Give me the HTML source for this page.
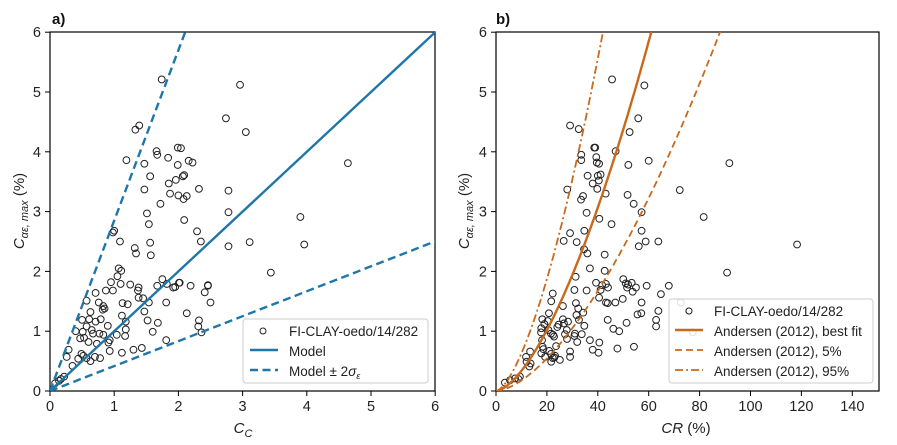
<!DOCTYPE html>
<html><head><meta charset="utf-8"><style>
html,body{margin:0;padding:0;background:#fff;}
svg{display:block;font-family:"Liberation Sans",Arial,sans-serif;}
</style></head><body>
<svg id="chart" width="897" height="445" viewBox="0 0 897 445">
<defs>
<clipPath id="clipA"><rect x="50" y="32" width="385" height="359"/></clipPath>
<clipPath id="clipB"><rect x="496" y="32" width="383" height="359"/></clipPath>
</defs>
<g id="panelA"></g>
<g id="panelB"></g>
</svg>
<script>
// ---- data ----
const ccValues = [1.74,2.74,1.33,1.39,1.66,1.67,1.19,1.47,1.84,1.99,2.04,1.99,2.16,2.22,1.56,2.09,2.07,1.96,1.85,1.47,2.32,2.78,1.87,2.00,2.13,2.08,1.72,1.51,2.78,1.54,2.09,2.29,2.35,0.98,1.00,1.09,1.56,1.32,1.34,1.57,2.78,3.05,4.64,3.90,3.11,3.96,3.44,2.46,2.41,2.50,2.96,1.07,1.11,1.05,0.95,1.10,1.25,1.75,1.67,1.82,1.92,1.95,2.01,2.02,2.19,2.46,1.38,1.37,0.71,0.87,0.98,0.57,0.76,0.83,0.85,0.82,1.13,1.21,1.38,1.45,1.54,1.81,2.13,2.32,2.31,2.36,1.47,1.52,1.68,1.60,1.81,0.63,0.61,0.50,0.71,0.79,0.90,1.12,1.18,1.18,1.17,0.40,0.51,0.57,0.65,0.67,0.77,0.83,0.93,1.04,0.47,0.53,0.60,0.73,0.91,0.93,0.29,0.26,0.35,0.44,0.52,0.57,0.63,0.70,0.78,0.49,1.12,1.30,1.43,0.22,0.17,0.14,0.08];
const caeValuesA = [5.21,4.56,4.37,4.44,4.01,3.95,3.86,3.80,3.90,4.07,4.06,3.78,3.85,3.82,3.59,3.61,3.59,3.53,3.47,3.37,3.38,3.35,3.30,3.27,3.26,3.21,3.13,2.97,2.99,2.79,2.86,2.67,2.50,2.65,2.68,2.50,2.48,2.39,2.30,2.27,2.42,4.33,3.81,2.91,2.49,2.45,1.98,1.76,1.65,1.48,5.12,2.05,2.01,1.92,1.82,1.79,1.78,1.87,1.76,1.79,1.73,1.74,1.81,1.81,1.76,1.77,1.73,1.68,1.64,1.68,1.68,1.51,1.48,1.42,1.38,1.36,1.47,1.45,1.56,1.55,1.48,1.48,1.30,1.18,1.08,0.98,1.33,1.18,1.14,0.99,0.85,1.32,1.20,1.19,1.16,1.20,1.09,1.26,1.16,1.03,0.92,1.00,0.99,1.08,1.02,0.96,0.96,0.94,0.85,0.94,0.88,0.89,0.82,0.79,0.81,0.67,0.69,0.57,0.42,0.54,0.59,0.55,0.50,0.57,0.55,0.62,0.64,0.69,0.72,0.24,0.20,0.17,0.13];
const modelSlopes = [1.0, 2.85, 0.417]; // model, +2sigma, -2sigma

const crValues = [45.6,58.3,55.9,29.1,32.5,52.5,38.6,39.0,47.0,33.5,33.5,39.4,39.6,40.5,52.0,60.0,72.2,36.0,40.0,41.1,38.0,40.4,39.8,28.0,43.1,51.7,34.2,33.4,54.1,35.6,57.2,40.6,91.7,81.6,57.2,58.8,63.8,118.3,90.8,59.2,67.9,64.8,57.2,63.8,62.9,62.9,72.6,75.7,77.3,45.4,29.1,34.7,26.6,31.7,56.1,34.6,35.9,42.7,36.9,42.7,31.3,39.3,43.2,41.7,44.0,41.1,35.6,30.8,50.0,51.0,51.9,53.3,51.5,55.0,53.7,22.3,21.7,26.3,40.5,43.2,43.9,46.9,49.8,57.1,31.4,32.3,34.3,31.6,32.6,34.7,18.2,19.0,20.3,20.8,26.3,26.7,28.3,17.8,17.7,20.6,21.6,22.4,24.1,22.8,24.6,27.8,27.1,27.9,31.0,30.8,33.7,31.9,36.9,40.6,47.7,40.3,38.0,48.4,46.1,43.9,51.3,54.2,55.6,18.1,18.3,18.6,17.8,19.3,20.9,21.6,22.3,21.7,23.2,23.6,25.1,22.9,29.1,29.1,11.8,13.4,12.0,13.6,13.1,9.4,7.5,5.5,3.5,8.8];
const caeValuesB = [5.21,5.11,4.56,4.44,4.38,4.33,4.07,4.07,4.01,3.95,3.86,3.91,3.82,3.80,3.78,3.85,3.36,3.60,3.60,3.62,3.47,3.52,3.38,3.37,3.30,3.28,3.26,3.20,3.13,2.98,2.99,2.88,3.81,2.91,2.68,2.50,2.50,2.45,1.98,1.76,1.76,1.62,1.48,1.34,1.19,1.08,1.48,1.34,0.98,2.79,2.64,2.68,2.51,2.49,2.42,2.37,2.30,2.28,2.05,2.01,1.91,1.81,1.79,1.77,1.73,1.69,1.68,1.69,1.87,1.80,1.78,1.81,1.73,1.73,1.66,1.63,1.50,1.42,1.56,1.48,1.47,1.48,1.54,1.30,1.47,1.38,1.31,1.27,1.19,1.09,1.20,1.12,1.17,1.30,1.20,1.13,1.16,1.05,0.98,1.02,0.96,0.94,1.07,0.91,1.11,1.02,0.95,0.87,0.96,0.92,0.95,0.82,0.85,0.81,0.71,0.64,0.69,1.00,1.04,1.19,1.14,0.74,1.28,0.85,0.74,0.70,0.63,0.57,0.67,0.62,0.55,0.49,0.59,0.75,0.52,0.56,0.66,0.57,0.57,0.66,0.49,0.46,0.41,0.24,0.21,0.18,0.14,0.20];
// Andersen (2012) curves: CR at which Cae reaches 6 %, and exponent
const andersenCRat6 = [61, 88, 42]; // best fit, 5%, 95%
const andersenExp = [1.59, 1.62, 1.57];

const ticksA_x = ["0","1","2","3","4","5","6"];
const ticksA_y = ["0","1","2","3","4","5","6"];
const ticksB_x = ["0","20","40","60","80","100","120","140"];
const ticksB_y = ["0","1","2","3","4","5","6"];

// ---- helpers ----
const NS = "http://www.w3.org/2000/svg";
function mk(tag, attrs, parent){const e=document.createElementNS(NS,tag);for(const k in attrs)e.setAttribute(k,attrs[k]);if(parent)parent.appendChild(e);return e;}
const BLUE="#1f77a8", ORANGE="#c8691c";
const yScale = v => 391 - v*59.8;
const xA = v => 50 + v*64.2;
const xB = v => 496 + v*2.545;

function axes(g, L, R, xs, xt, yt){
  const box = mk('rect',{x:L,y:32,width:R-L,height:359,fill:'none',stroke:'#000','stroke-width':1.2},g);
   
  xt.forEach(t=>{const x=xs(+t);
    const l=mk('line',{x1:x,x2:x,y1:391,y2:396,stroke:'#000','stroke-width':1},g);
     
    const tx=mk('text',{x:x,y:411,'text-anchor':'middle','font-size':14.5,fill:'#222'},g); tx.textContent=t;
     });
  yt.forEach(t=>{const y=yScale(+t);
    const l=mk('line',{x1:L-5,x2:L,y1:y,y2:y,stroke:'#000','stroke-width':1},g);
     
    const tx=mk('text',{x:L-9,y:y+5,'text-anchor':'end','font-size':14.5,fill:'#222'},g); tx.textContent=t;
     });
}
function yTitle(g,x){
  const t=mk('text',{transform:`translate(${x},211) rotate(-90)`,'text-anchor':'middle','font-size':15,fill:'#222'},g);
  t.innerHTML='<tspan font-style="italic">C</tspan><tspan font-style="italic" font-size="11" dy="4">αε, max</tspan><tspan dy="-4"> (%)</tspan>';
   
}
function points(g, xs, ys, xf){
  xs.forEach((v,i)=>{const c=mk('circle',{cx:xf(v),cy:yScale(ys[i]),r:3.4,fill:'none',stroke:'#222','stroke-width':1},g);
     });
}

// ---- panel a ----
const gA=document.getElementById('panelA');
axes(gA,50,435,xA,ticksA_x,ticksA_y);
yTitle(gA,24);
const la=mk('text',{x:52,y:24,'font-size':15,'font-weight':'bold',fill:'#111'},gA); la.textContent='a)';
 
const xa=mk('text',{x:243,y:433,'text-anchor':'middle','font-size':15,fill:'#222'},gA);
xa.innerHTML='<tspan font-style="italic">C</tspan><tspan font-style="italic" font-size="11" dy="4">C</tspan>';
 
const clA=mk('g',{'clip-path':'url(#clipA)'},gA);
points(clA,ccValues,caeValuesA,xA);
modelSlopes.forEach((s,i)=>{
  const l=mk('line',{x1:xA(0),y1:yScale(0),x2:xA(6),y2:yScale(6*s),stroke:BLUE,'stroke-width':2.4},clA);
  if(i>0) l.setAttribute('stroke-dasharray','8,4.5');
  
  
});
// legend a
const lgA=mk('g',{},gA);  
mk('rect',{x:243,y:319,width:185,height:64,rx:3,fill:'#fff',stroke:'#ccc','stroke-width':1},lgA);
mk('circle',{cx:263,cy:331,r:3,fill:'none',stroke:'#222'},lgA);
mk('line',{x1:250,x2:278,y1:350,y2:350,stroke:BLUE,'stroke-width':2.4},lgA);
mk('line',{x1:250,x2:278,y1:370,y2:370,stroke:BLUE,'stroke-width':2.4,'stroke-dasharray':'8,4.5'},lgA);
[['FI-CLAY-oedo/14/282',336],['Model',356]].forEach(([s,y])=>{const t=mk('text',{x:289,y:y,'font-size':13.5,fill:'#222'},lgA);t.textContent=s;
   });
const t3=mk('text',{x:289,y:376,'font-size':13.5,fill:'#222'},lgA);
t3.innerHTML='Model ± 2<tspan font-style="italic">σ</tspan><tspan font-style="italic" font-size="9" dy="3">ε</tspan>';
 

// ---- panel b ----
const gB=document.getElementById('panelB');
axes(gB,496,879,xB,ticksB_x,ticksB_y);
yTitle(gB,469);
const lb=mk('text',{x:496,y:24,'font-size':15,'font-weight':'bold',fill:'#111'},gB); lb.textContent='b)';
 
const xb=mk('text',{x:686,y:433,'text-anchor':'middle','font-size':15,fill:'#222'},gB);
xb.innerHTML='<tspan font-style="italic">CR</tspan> (%)';
 
const clB=mk('g',{'clip-path':'url(#clipB)'},gB);
points(clB,crValues,caeValuesB,xB);
const dashes=['none','7,4','8,3,2,3'];
const names=['andersen-best-fit','andersen-5pct','andersen-95pct'];
andersenCRat6.forEach((c6,i)=>{
  let d='';
  for(let k=0;k<=120;k++){const cr=c6*1.05*k/120; const v=6*Math.pow(cr/c6,andersenExp[i]);
    d+=(k?'L':'M')+xB(cr).toFixed(1)+','+yScale(v).toFixed(1);}
  const p=mk('path',{d:d,fill:'none',stroke:ORANGE,'stroke-width':i===0?2.4:1.8},clB);
  if(dashes[i]!=='none') p.setAttribute('stroke-dasharray',dashes[i]);
   
});
// legend b
const lgB=mk('g',{},gB);  
mk('rect',{x:669,y:299,width:204,height:84,rx:3,fill:'#fff','fill-opacity':0.85,stroke:'#ccc','stroke-width':1},lgB);
mk('circle',{cx:689,cy:311,r:3,fill:'none',stroke:'#222'},lgB);
mk('line',{x1:675,x2:703,y1:330,y2:330,stroke:ORANGE,'stroke-width':2.4},lgB);
mk('line',{x1:675,x2:703,y1:350,y2:350,stroke:ORANGE,'stroke-width':1.8,'stroke-dasharray':'7,4'},lgB);
mk('line',{x1:675,x2:703,y1:370,y2:370,stroke:ORANGE,'stroke-width':1.8,'stroke-dasharray':'8,3,2,3'},lgB);
[['FI-CLAY-oedo/14/282',316],['Andersen (2012), best fit',336],['Andersen (2012), 5%',356],['Andersen (2012), 95%',376]].forEach(([s,y])=>{
  const t=mk('text',{x:714,y:y,'font-size':13.5,fill:'#222'},lgB);t.textContent=s;
   });
</script>
</body></html>
